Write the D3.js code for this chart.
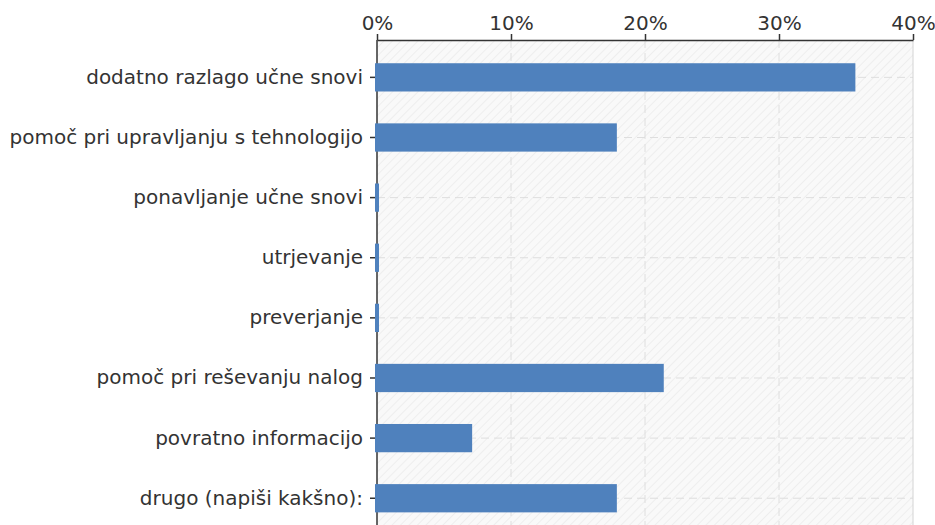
<!DOCTYPE html>
<html>
<head>
<meta charset="utf-8">
<script src="https://cdn.jsdelivr.net/npm/d3@7"></script>
<style>
  body { margin: 0; background: #fff; }
  svg text { font-family: "DejaVu Sans", Verdana, sans-serif; fill: #333; }
</style>
</head>
<body>
<div id="chart"></div>
<script>
const categories = [
    'dodatno razlago učne snovi',
    'pomoč pri upravljanju s tehnologijo',
    'ponavljanje učne snovi',
    'utrjevanje',
    'preverjanje',
    'pomoč pri reševanju nalog',
    'povratno informacijo',
    'drugo (napiši kakšno):'
];
const values = [35.7, 17.9, 0, 0, 0, 21.4, 7.1, 17.9];
const xTicks = [0, 10, 20, 30, 40];

const width = 935, height = 525;
const margin = { top: 40, left: 377, right: 22 };

const svg = d3.select('#chart').append('svg')
    .attr('width', width)
    .attr('height', height);

// hatch pattern for plot background
const defs = svg.append('defs');
const pat = defs.append('pattern')
    .attr('id', 'hatch')
    .attr('patternUnits', 'userSpaceOnUse')
    .attr('width', 6)
    .attr('height', 6)
    .attr('patternTransform', 'rotate(45)');
pat.append('rect').attr('width', 6).attr('height', 6).attr('fill', '#f9f9f9');
pat.append('line').attr('x1', 0).attr('y1', 0).attr('x2', 0).attr('y2', 6)
    .attr('stroke', '#ebebeb').attr('stroke-width', 1.5);

const x = d3.scaleLinear()
    .domain([0, 40])
    .range([margin.left, width - margin.right]);

const y = d3.scaleBand()
    .domain(categories)
    .range([47, 47 + 60.2 * categories.length])
    .paddingInner(0.53)
    .paddingOuter(0.27);

// plot background
svg.append('rect')
    .attr('x', x(0))
    .attr('y', margin.top)
    .attr('width', x(40) - x(0))
    .attr('height', height - margin.top)
    .attr('fill', 'url(#hatch)');

// vertical grid
svg.append('g')
    .selectAll('line')
    .data(xTicks.slice(1, -1))
    .enter().append('line')
    .attr('x1', d => x(d)).attr('x2', d => x(d))
    .attr('y1', margin.top).attr('y2', height)
    .attr('stroke', '#dedede')
    .attr('stroke-dasharray', '8,5');

// horizontal grid at category centres
svg.append('g')
    .selectAll('line')
    .data(categories)
    .enter().append('line')
    .attr('x1', x(0)).attr('x2', x(40))
    .attr('y1', d => y(d) + y.bandwidth() / 2)
    .attr('y2', d => y(d) + y.bandwidth() / 2)
    .attr('stroke', '#dedede')
    .attr('stroke-dasharray', '8,5');

// right border
svg.append('line')
    .attr('x1', x(40)).attr('x2', x(40))
    .attr('y1', margin.top).attr('y2', height)
    .attr('stroke', '#d4d4d4');

// top axis
const xAxis = svg.append('g')
    .attr('transform', `translate(0,${margin.top})`)
    .call(d3.axisTop(x)
        .tickValues(xTicks)
        .tickFormat(d => d + '%')
        .tickSize(6)
        .tickSizeOuter(0)
        .tickPadding(4));
xAxis.select('.domain').attr('stroke', '#333').attr('stroke-width', 1.5);
xAxis.selectAll('.tick line').attr('stroke', '#333').attr('stroke-width', 1.5);
xAxis.selectAll('text').style('font-size', '20px').attr('fill', '#333');

// left axis
const yAxis = svg.append('g')
    .attr('transform', `translate(${x(0)},0)`)
    .call(d3.axisLeft(y)
        .tickSize(7)
        .tickSizeOuter(0)
        .tickPadding(7));
yAxis.select('.domain')
    .attr('d', `M0,${margin.top}V${height}`)
    .attr('stroke', '#333').attr('stroke-width', 1.5);
yAxis.selectAll('.tick line').attr('stroke', '#333').attr('stroke-width', 1.5);
yAxis.selectAll('text').style('font-size', '20px').attr('fill', '#333');

// bars drawn over the left axis; zero values still get a thin sliver
svg.append('g')
    .selectAll('rect')
    .data(values)
    .enter().append('rect')
    .attr('x', x(0) - 2)
    .attr('y', (d, i) => y(categories[i]))
    .attr('width', d => Math.max(4, x(d) - x(0) + 2))
    .attr('height', y.bandwidth())
    .attr('fill', '#4f81bd');
</script>
</body>
</html>
